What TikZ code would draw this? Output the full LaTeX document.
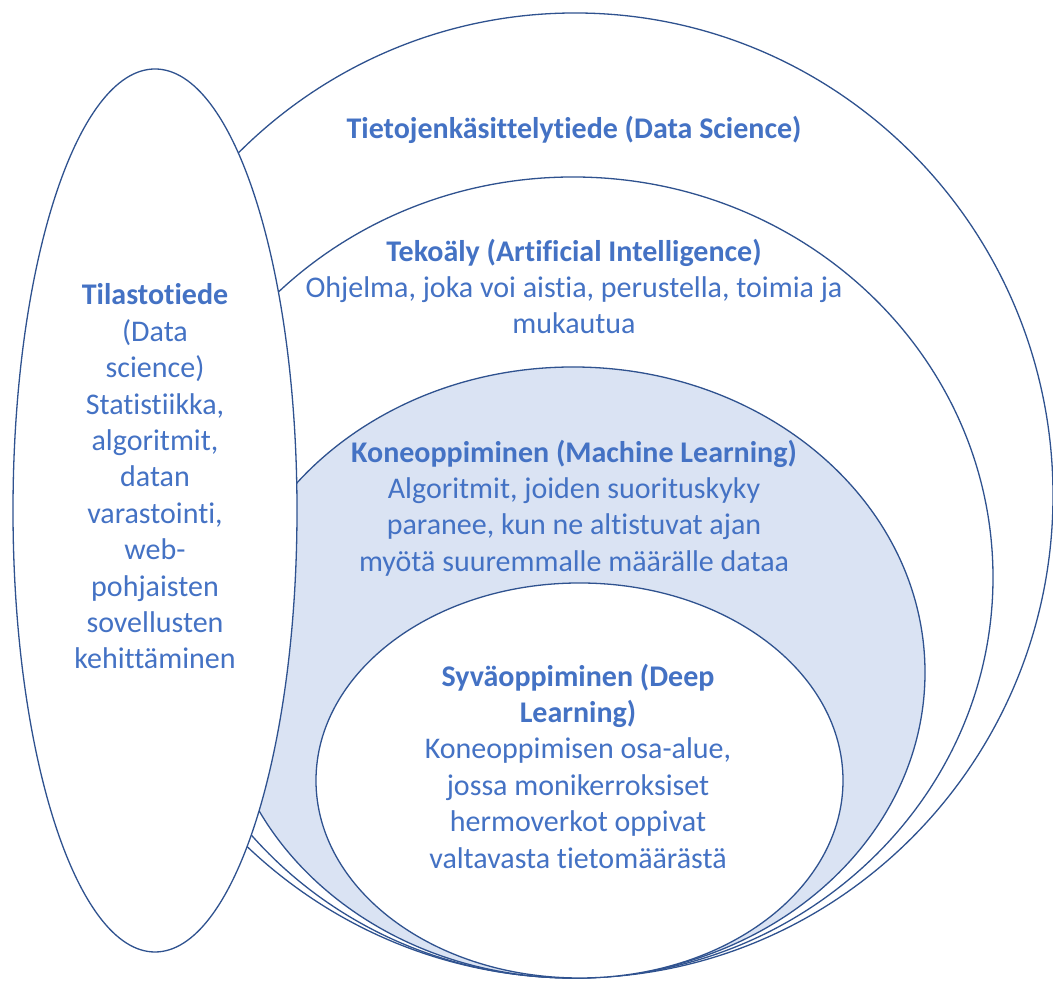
\documentclass[tikz,border=0pt]{standalone}
\usepackage{fontspec}
\setmainfont[Ligatures=NoCommon]{Carlito}
\usetikzlibrary{shapes.geometric}
\definecolor{edgeblue}{HTML}{2F528F}
\definecolor{textblue}{HTML}{4472C4}
\definecolor{mlfill}{HTML}{DAE3F3}
\begin{document}
\begin{tikzpicture}
	[x=1pt, y=1pt,
	ring/.style = {draw=edgeblue, ellipse, line width=1.3pt, fill=white, inner sep=0pt},
	txt/.style = {text=textblue, align=center, inner sep=0pt, font=\fontsize{30}{36.4}\selectfont}]
\useasboundingbox (0,0) rectangle (1053,981);
\node[ring, minimum width=956pt, minimum height=965pt] (ds) at (575,485.5) {};
\node[ring, minimum width=840pt, minimum height=801pt] (ai) at (573,403.5) {};
\node[ring, fill=mlfill, minimum width=704pt, minimum height=611pt] (ml) at (573,308.5) {};
\node[ring, minimum width=527pt, minimum height=395pt] (dl) at (579.5,200.5) {};
\node[ring, minimum width=284pt, minimum height=883pt] (stat) at (155,470.5) {};
% texts
\node[txt] (dstext) at (574,851) {\textbf{Tietojenkäsittelytiede (Data Science)}};
\node[txt] (aitext) at (574,694.5) {\textbf{Tekoäly (Artificial Intelligence)}\\
	Ohjelma, joka voi aistia, perustella, toimia ja\\ mukautua};
\node[txt] (mltext) at (574,473) {\textbf{Koneoppiminen (Machine Learning)}\\
	Algoritmit, joiden suorituskyky\\ paranee, kun ne altistuvat ajan\\
	myötä suuremmalle määrälle dataa};
\node[txt] (dltext) at (578,215) {\textbf{Syväoppiminen (Deep}\\ \textbf{Learning)}\\
	Koneoppimisen osa-alue,\\ jossa monikerroksiset\\ hermoverkot oppivat\\
	valtavasta tietomäärästä};
\node[txt] (stattext) at (155,504.5) {\textbf{Tilastotiede}\\ (Data\\ science)\\
	Statistiikka,\\ algoritmit,\\ datan\\ varastointi,\\ web-\\ pohjaisten\\
	sovellusten\\ kehittäminen};
\end{tikzpicture}
\end{document}
